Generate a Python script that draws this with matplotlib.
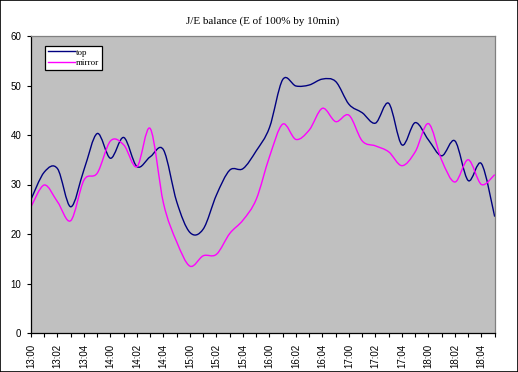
import matplotlib
matplotlib.use("Agg")
import matplotlib.pyplot as plt
from matplotlib.path import Path
from matplotlib.patches import PathPatch, Rectangle
from matplotlib.lines import Line2D

NAVY, MAGENTA, PLOT_BG = "#000080", "#ff00ff", "#c0c0c0"

hours = [13, 14, 15, 16, 17, 18]
slots = [0, 1, 2, 3, 4, 5]
categories = [f"{h}:{s:02d}" for h in hours for s in slots]

top = [27.0, 32.5, 33.2, 25.5, 33.0, 40.3, 35.3, 39.5, 33.6, 35.6, 37.0, 26.5,
       20.3, 21.0, 27.9, 32.9, 33.2, 36.8, 41.5, 51.2, 49.9, 50.1, 51.3, 50.8,
       46.2, 44.5, 42.4, 46.4, 38.0, 42.5, 39.0, 35.8, 38.8, 30.8, 34.2, 23.5]
mirror = [25.5, 29.9, 26.5, 22.7, 30.9, 32.3, 38.8, 38.0, 33.6, 41.3, 26.2, 18.4,
          13.5, 15.6, 15.9, 20.1, 22.8, 27.0, 35.6, 42.2, 39.1, 41.0, 45.4, 42.7,
          44.0, 38.8, 37.8, 36.6, 33.8, 36.6, 42.3, 34.9, 30.5, 35.0, 30.0, 32.0]


def smooth_path(ys):
    # Excel-style smoothed line: cubic Bezier through every point
    xs = list(range(len(ys)))
    pts = list(zip(xs, ys))
    verts, codes = [pts[0]], [Path.MOVETO]
    n = len(pts)
    for i in range(n - 1):
        p0 = pts[max(i - 1, 0)]
        p1, p2 = pts[i], pts[i + 1]
        p3 = pts[min(i + 2, n - 1)]
        c1 = (p1[0] + (p2[0] - p0[0]) / 6, p1[1] + (p2[1] - p0[1]) / 6)
        c2 = (p2[0] - (p3[0] - p1[0]) / 6, p2[1] - (p3[1] - p1[1]) / 6)
        verts += [c1, c2, p2]
        codes += [Path.CURVE4] * 3
    return Path(verts, codes)


W, H = 518, 372
fig = plt.figure(figsize=(W / 100, H / 100), dpi=100)
fig.patch.set_facecolor("white")
fig.patches.append(Rectangle((0, 0), 1, 1, transform=fig.transFigure, fill=False,
                             ec="black", lw=1.2, zorder=10))

ax = fig.add_axes([31 / W, 1 - 333 / H, (494.7 - 31) / W, (333 - 36) / H])
ax.set_facecolor(PLOT_BG)

for ys, col in [(top, NAVY), (mirror, MAGENTA)]:
    ax.add_patch(PathPatch(smooth_path(ys), fill=False, ec=col, lw=1.0))

ax.set_xlim(0, len(categories) - 1)
ax.set_ylim(0, 60)
ax.set_yticks(range(0, 61, 10))
ax.set_xticks(range(len(categories)))
ax.set_xticklabels([c if i % 2 == 0 else "" for i, c in enumerate(categories)],
                   rotation=90, fontsize=7, family="Liberation Sans")
for lab in ax.get_yticklabels():
    lab.set_fontsize(7)
    lab.set_family("Liberation Sans")
ax.tick_params(axis="both", direction="out", length=3, width=0.8, pad=4)
ax.tick_params(axis="x", pad=5)

ax.spines["left"].set_color("black")
ax.spines["bottom"].set_color("black")
ax.spines["top"].set_color("#808080")
ax.spines["right"].set_color("#808080")
for s in ax.spines.values():
    s.set_linewidth(0.9)

ax.set_title("J/E balance (E of 100% by 10min)", fontsize=8, family="Liberation Serif", pad=9)

leg = ax.legend(handles=[Line2D([], [], color=NAVY, lw=1.0, label="top"),
                         Line2D([], [], color=MAGENTA, lw=1.0, label="mirror")],
                loc="upper left", bbox_to_anchor=(0.031, 0.968),
                prop={"family": "Liberation Serif", "size": 6.5},
                frameon=True, fancybox=False, edgecolor="black", framealpha=1,
                handlelength=3.0, handletextpad=0.1, borderpad=0.3, labelspacing=0.25,
                borderaxespad=0)
leg.get_frame().set_linewidth(0.9)

fig.savefig("out.png", dpi=100)
